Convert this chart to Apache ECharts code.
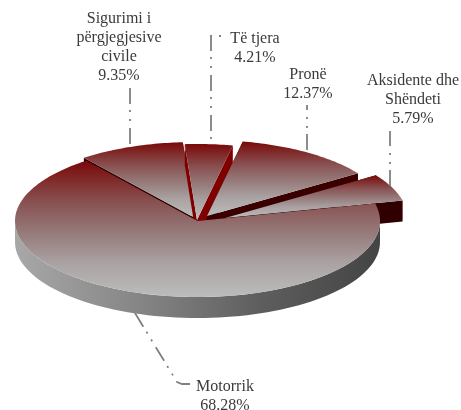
<!DOCTYPE html>
<html>
<head>
<meta charset="utf-8">
<style>html,body{margin:0;padding:0;background:#fff}#c{width:461px;height:410px}</style>
<script src="https://cdn.jsdelivr.net/npm/echarts@6/dist/echarts.min.js"></script>
</head>
<body>
<div id="c"></div>
<script>
// Data, clockwise from the first slice (also back-to-front paint order)
const categories = ['Sigurimi i përgjegjesive civile', 'Të tjera', 'Pronë', 'Aksidente dhe Shëndeti', 'Motorrik'];
const labelLines = [['Sigurimi i', 'përgjegjesive', 'civile'], ['Të tjera'], ['Pronë'], ['Aksidente dhe', 'Shëndeti'], ['Motorrik']];
const shares = [9.35, 4.21, 12.37, 5.79, 68.28];

// Presentation
const startDeg = -37.5;
const RX = 182.5, RY = 76, DEPTH = 21;
const centres = [[195, 218], [197, 220], [207, 216], [225, 218], [197.5, 221]];
const wallColours = ['#2c0000', '#800000', '#3a0000', '#300000', '#300000'];
const labelPos = [[119, 9.5], [255, 29.5], [308, 65.5], [413, 71.5], [225, 377.5]];
const leaders = [
  [[130, 88], [130, 147]],
  [[221, 36], [211, 36], [211, 143]],
  [[307, 150], [307, 105]],
  [[390, 186], [390, 131]],
  [[135, 313], [177, 382], [182, 384], [190, 384]]
];
const leaderOffsets = [0, 31, 0, 0, 0];
const topFill = {type: 'linear', x: 0, y: 0, x2: 0, y2: 1, colorStops: [
  {offset: 0, color: '#7a0808'}, {offset: 0.3, color: '#885050'}, {offset: 0.55, color: '#987e7e'},
  {offset: 0.75, color: '#aaa2a2'}, {offset: 1, color: '#bcbcbc'}]};
const rimFill = {type: 'linear', x: 0, y: 0, x2: 1, y2: 0, colorStops: [
  {offset: 0, color: '#a8a8a8'}, {offset: 0.315, color: '#888888'}, {offset: 0.59, color: '#686868'},
  {offset: 0.67, color: '#5e5e5e'}, {offset: 1, color: '#444444'}]};

const total = shares.reduce((a, b) => a + b, 0);
function pt(c, deg, dy) {
  const r = deg * Math.PI / 180;
  return [c[0] + RX * Math.sin(r), c[1] - RY * Math.cos(r) + (dy || 0)];
}
function sliceAngles(i) {
  let s = startDeg;
  for (let k = 0; k < i; k++) s += shares[k] / total * 360;
  return [s, s + shares[i] / total * 360];
}
function renderSlice(params, api) {
  const i = params.dataIndex;
  const [a0, a1] = sliceAngles(i);
  const c = centres[i];
  const children = [];
  const apexDown = [c[0], c[1] + DEPTH];
  [a0, a1].forEach(a => {
    children.push({type: 'polygon', shape: {points: [c, pt(c, a), pt(c, a, DEPTH), apexDown]},
      style: {fill: wallColours[i]}});
  });
  // outer rim: only the part facing the viewer (90..270 deg)
  const lo = Math.max(a0, 90), hi = Math.min(a1, 270);
  if (hi > lo) {
    const up = [], down = [];
    for (let a = lo; a <= hi + 1e-6; a += (hi - lo) / 80) { up.push(pt(c, a)); down.unshift(pt(c, a, DEPTH)); }
    children.push({type: 'polygon', shape: {points: up.concat(down)}, style: {fill: rimFill}});
  }
  const top = [c];
  const n = Math.ceil(a1 - a0);
  for (let k = 0; k <= n; k++) top.push(pt(c, a0 + (a1 - a0) * k / n));
  children.push({type: 'polygon', shape: {points: top}, style: {fill: topFill}});
  return {type: 'group', children};
}
function renderLabel(params, api) {
  const i = params.dataIndex;
  const text = labelLines[i].concat(shares[i].toFixed(2) + '%').join('\n');
  return {type: 'group', children: [
    {type: 'polyline', shape: {points: leaders[i]},
      style: {fill: null, stroke: '#808080', lineWidth: 1.8, lineDash: [16, 6, 2, 7, 2, 7], lineDashOffset: leaderOffsets[i]}},
    {type: 'text', x: labelPos[i][0], y: labelPos[i][1],
      style: {text, align: 'center', verticalAlign: 'top', fill: '#3a3a3a', lineHeight: 18.8,
        fontFamily: '"Liberation Serif", serif', fontSize: 16}}
  ]};
}
const chart = echarts.init(document.getElementById('c'), null, {renderer: 'canvas'});
const data = categories.map((n, i) => ({name: n, value: [shares[i]]}));
chart.setOption({
  animation: false,
  backgroundColor: '#ffffff',
  tooltip: {show: false},
  series: [
    {type: 'custom', coordinateSystem: 'none', silent: true, z: 2, renderItem: renderSlice, data},
    {type: 'custom', coordinateSystem: 'none', silent: true, z: 3, renderItem: renderLabel, data}
  ]
});
</script>
</body>
</html>
